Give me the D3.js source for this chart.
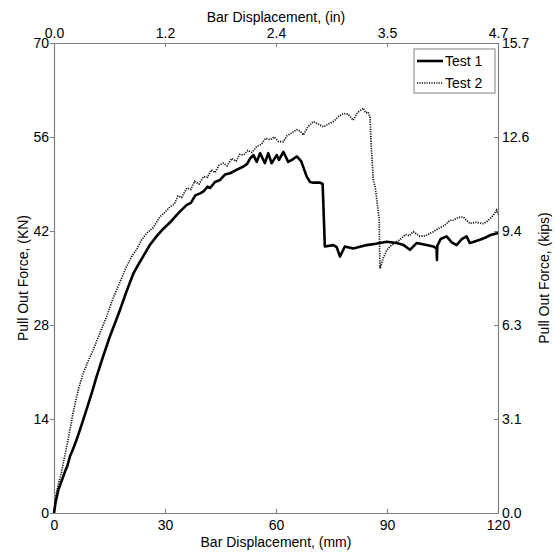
<!DOCTYPE html>
<html><head><meta charset="utf-8">
<script src="https://cdn.jsdelivr.net/npm/d3@7"></script>
<style>body{margin:0;background:#fff}svg{display:block}text{font-family:"Liberation Sans",Arial,sans-serif;fill:#000}</style>
</head><body>
<script>
const xTicks = [0, 30, 60, 90, 120];
const xTopLabels = ["0.0", "1.2", "2.4", "3.5", "4.7"];
const yTicks = [0, 14, 28, 42, 56, 70];
const yRightLabels = ["0.0", "3.1", "6.3", "9.4", "12.6", "15.7"];
const seriesNames = ["Test 1", "Test 2"];

const test1X = [0,0.4,1.2,2.2,3.0,3.6,4.3,5.2,6.1,7.5,9.3,10.5,11.5,13.2,15.1,16.5,17.8,19.6,21.4,23.0,24.3,26.0,27.7,29.5,31.4,33.0,34.2,35.9,37.0,38.2,39.5,40.4,41.5,42.2,43.5,44.9,46.2,47.6,49.3,51.2,52.2,53.0,53.9,54.8,55.7,57.0,57.9,58.8,60.2,60.8,62.0,63.3,64.3,65.6,66.8,68.3,69.2,70.1,71.9,72.6,72.8,73.2,75.5,76.4,77.3,78.6,80.9,84.5,87.0,89.9,92.6,94.5,96.2,98.0,100.7,102.5,103.4,103.5,103.6,104.5,106.1,107.5,108.8,110.2,111.5,112.4,113.5,115.1,116.5,118.0,120];
const test1Y = [0,1.5,3.5,5.0,6.2,7.0,8.4,9.6,10.9,13.2,16.3,18.4,20.3,23.2,26.3,28.3,30.2,33.0,35.6,37.2,38.4,40.0,41.2,42.3,43.3,44.3,45.0,45.9,46.2,47.3,47.6,47.9,48.6,48.4,49.3,49.6,50.4,50.6,51.1,51.6,52.0,52.8,53.3,52.3,53.6,52.1,53.6,52.1,53.3,52.6,53.8,52.3,52.6,53.1,52.4,50.1,49.3,49.2,49.2,49.0,46.0,39.7,39.9,39.6,38.2,39.7,39.4,39.9,40.1,40.4,40.2,39.9,39.2,40.2,39.9,39.7,39.4,37.7,39.8,40.8,41.2,40.3,39.9,40.8,41.2,40.2,40.4,40.7,41.0,41.4,41.7];

const test2X = [0,0.5,1.2,2.0,2.5,3.4,4.3,5.2,6.1,7.0,7.9,9.2,10.6,12.4,14.2,15.5,16.9,18.3,19.6,21.0,22.4,23.7,25.1,26.8,28.6,30.0,31.4,32.5,33.5,34.5,35.9,37.0,38.0,39.2,40.4,41.5,42.5,43.5,44.6,45.8,46.8,48.0,49.2,50.2,51.2,52.4,53.5,54.8,56.0,57.2,58.4,59.5,60.7,62.0,63.0,64.2,65.6,66.5,67.4,68.6,70.1,71.5,72.8,74.0,75.5,76.8,78.2,79.5,80.4,80.9,82.0,83.6,84.2,84.9,85.4,85.7,86.3,86.8,87.5,87.9,88.0,88.1,89.0,90.0,90.8,92.6,93.5,95.0,96.0,97.1,98.9,100.5,102.5,104.0,105.5,107.0,107.9,109.2,110.6,111.5,112.4,114.0,116.0,117.0,118.7,119.6,120];
const test2Y = [0,2.5,4.4,6.0,7.4,9.8,12.4,15.0,17.3,19.2,20.8,22.6,24.3,26.8,29.2,31.3,33.2,35.0,36.7,38.2,39.3,40.7,41.7,42.5,44.1,44.8,45.6,46.0,47.2,47.0,48.4,48.2,49.4,49.0,50.1,50.0,51.1,50.7,51.8,52.1,51.7,52.8,52.4,53.4,53.3,54.0,53.7,54.6,54.9,55.8,55.6,56.0,55.3,55.3,56.2,56.6,57.1,56.9,56.3,57.5,58.3,57.9,57.5,57.9,58.3,59.0,59.5,59.4,58.8,58.5,59.6,60.3,59.6,59.7,59.0,55.0,49.6,48.6,45.5,43.6,39.5,36.4,38.0,39.2,39.7,40.4,40.7,41.5,41.3,41.9,41.2,41.3,41.9,42.4,42.8,43.6,43.6,44.0,44.1,43.6,43.1,43.3,43.1,43.4,44.3,45.1,44.5];

const W = 555, H = 554;
const L = 54, R = 498, T = 43, B = 513;
const axisColor = "#808080";
const svg = d3.select("body").append("svg").attr("width", W).attr("height", H);
const x = d3.scaleLinear().domain([0, 120]).range([L, R]);
const y = d3.scaleLinear().domain([0, 70]).range([B, T]);

function styleAxis(g){
  g.select(".domain").attr("stroke", axisColor).attr("stroke-width", 1.2);
  g.selectAll(".tick line").attr("stroke", axisColor).attr("stroke-width", 1);
  g.selectAll(".tick text").attr("font-size", 14).attr("fill", "#000")
   .style("font-family", '"Liberation Sans", Arial, sans-serif');
}

svg.append("g").attr("transform", `translate(0,${B})`)
  .call(d3.axisBottom(x).tickValues(xTicks).tickFormat(d3.format("d")).tickSizeInner(-4).tickSizeOuter(0).tickPadding(7))
  .call(styleAxis);
svg.append("g").attr("transform", `translate(0,${T})`)
  .call(d3.axisTop(x).tickValues(xTicks).tickFormat((d,i)=>xTopLabels[i]).tickSizeInner(-4).tickSizeOuter(0).tickPadding(5))
  .call(styleAxis);
svg.append("g").attr("transform", `translate(${L},0)`)
  .call(d3.axisLeft(y).tickValues(yTicks).tickFormat(d3.format("d")).tickSizeInner(4).tickSizeOuter(0).tickPadding(1))
  .call(styleAxis);
svg.append("g").attr("transform", `translate(${R},0)`)
  .call(d3.axisRight(y).tickValues(yTicks).tickFormat((d,i)=>yRightLabels[i]).tickSizeInner(-4).tickSizeOuter(0).tickPadding(4))
  .call(styleAxis);

svg.append("text").attr("x", (L+R)/2).attr("y", 547).attr("text-anchor","middle").attr("font-size",14).text("Bar Displacement, (mm)");
svg.append("text").attr("x", (L+R)/2).attr("y", 22).attr("text-anchor","middle").attr("font-size",14).text("Bar Displacement, (in)");
svg.append("text").attr("transform", `translate(28,${(T+B)/2}) rotate(-90)`).attr("text-anchor","middle").attr("font-size",14).text("Pull Out Force, (KN)");
svg.append("text").attr("transform", `translate(549,${(T+B)/2}) rotate(-90)`).attr("text-anchor","middle").attr("font-size",14).text("Pull Out Force, (kips)");

const line = d3.line().x(d=>x(d[0])).y(d=>y(d[1]));
const d1 = test1X.map((v,i)=>[v, test1Y[i]]);
const d2 = test2X.map((v,i)=>[v, test2Y[i]]);

const plot = svg.append("g");
plot.append("path").datum(d2).attr("d", line).attr("fill","none").attr("stroke","#111")
  .attr("stroke-width",1.7).attr("stroke-dasharray","1.2,1.2");
plot.append("path").datum(d1).attr("d", line).attr("fill","none").attr("stroke","#000")
  .attr("stroke-width",2.6).attr("stroke-linejoin","round");

const lg = svg.append("g");
lg.append("rect").attr("x",414).attr("y",49).attr("width",81).attr("height",44)
  .attr("fill","#fff").attr("stroke",axisColor).attr("stroke-width",1);
const rows = [{y:61, dash:null, w:2.6, c:"#000"}, {y:83, dash:"1.2,1.2", w:1.7, c:"#111"}];
rows.forEach((r,i)=>{
  const l = lg.append("line").attr("x1",417).attr("x2",443).attr("y1",r.y).attr("y2",r.y)
    .attr("stroke",r.c).attr("stroke-width",r.w);
  if (r.dash) l.attr("stroke-dasharray", r.dash);
  lg.append("text").attr("x",445).attr("y",r.y+5).attr("font-size",14).text(seriesNames[i]);
});
</script>
</body></html>
